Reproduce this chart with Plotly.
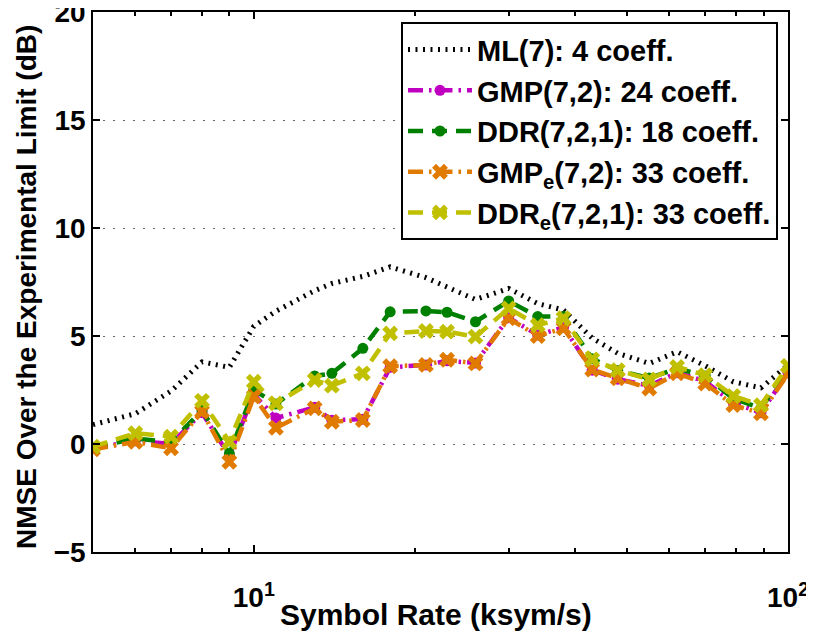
import plotly.graph_objects as go

# ---- data ----
symbol_rate = [5, 6, 7, 8, 9, 10, 11, 13, 14, 16, 18, 21, 23, 26, 30, 34, 38, 43, 48, 55, 62, 70, 79, 89, 100]

ml_7 = [0.9, 1.4, 2.45, 3.8, 3.55, 5.45, 6.15, 7.1, 7.43, 7.76, 8.2, 7.7, 7.27, 6.69, 7.2,
        6.5, 6.2, 4.9, 4.2, 3.73, 4.27, 3.62, 2.88, 2.6, 3.65]
gmp_72 = [-0.2, 0.15, 0.0, 1.45, -0.55, 2.3, 1.2, 1.7, 1.1, 1.15, 3.55, 3.66, 3.85, 3.75, 5.85,
          5.05, 5.4, 3.42, 3.0, 2.7, 3.3, 2.9, 1.9, 1.45, 3.3]
ddr_721 = [-0.15, 0.25, 0.1, 1.55, -0.45, 2.5, 1.85, 3.15, 3.27, 4.43, 6.12, 6.16, 6.1, 5.66, 6.62,
           5.9, 5.9, 3.95, 3.4, 3.05, 3.5, 3.15, 2.1, 1.65, 3.45]
gmpe_72 = [-0.25, 0.1, -0.2, 1.5, -0.82, 2.2, 0.75, 1.65, 1.03, 1.11, 3.6, 3.66, 3.9, 3.73, 5.82,
           5.0, 5.36, 3.45, 3.04, 2.57, 3.27, 2.8, 1.8, 1.42, 3.24]
ddre_721 = [-0.12, 0.5, 0.34, 2.0, 0.1, 2.88, 1.88, 2.96, 2.7, 3.27, 5.12, 5.23, 5.2, 4.97, 6.28,
            5.5, 5.82, 3.92, 3.42, 2.99, 3.57, 3.19, 2.22, 1.8, 3.62]

series_names = [
    "ML(7): 4 coeff.",
    "GMP(7,2): 24 coeff.",
    "DDR(7,2,1): 18 coeff.",
    "GMP<sub>e</sub>(7,2): 33 coeff.",
    "DDR<sub>e</sub>(7,2,1): 33 coeff.",
]

x_major_ticks = [10, 100]
x_major_labels = ["10<sup>1</sup>", "10<sup>2</sup>"]
x_minor_ticks = [5, 6, 7, 8, 9, 20, 30, 40, 50, 60, 70, 80, 90]
y_ticks = [-5, 0, 5, 10, 15, 20]
x_title = "Symbol Rate (ksym/s)"
y_title = "NMSE Over the Experimental Limit (dB)"

FONT = "Liberation Sans, Arial, Helvetica, sans-serif"

MAGENTA = "#C000C0"
GREEN = "#008000"
ORANGE = "#E07B00"
OLIVE = "#C0C000"

DASH = "15px,9px"
DASHDOT = "15px,6px,2.5px,6px"

fig = go.Figure()

fig.add_trace(go.Scatter(
    x=symbol_rate, y=ml_7, name=series_names[0], mode="lines",
    line=dict(color="black", width=5, dash="2px,5.5px"),
))
fig.add_trace(go.Scatter(
    x=symbol_rate, y=gmp_72, name=series_names[1], mode="lines+markers",
    line=dict(color=MAGENTA, width=4.5, dash=DASHDOT),
    marker=dict(symbol="circle", size=11, color=MAGENTA),
))
fig.add_trace(go.Scatter(
    x=symbol_rate, y=ddr_721, name=series_names[2], mode="lines+markers",
    line=dict(color=GREEN, width=4.5, dash=DASH),
    marker=dict(symbol="circle", size=11, color=GREEN),
))
fig.add_trace(go.Scatter(
    x=symbol_rate, y=gmpe_72, name=series_names[3], mode="lines+markers",
    line=dict(color=ORANGE, width=4.5, dash=DASHDOT),
    marker=dict(symbol="x", size=14, color=ORANGE),
))
fig.add_trace(go.Scatter(
    x=symbol_rate, y=ddre_721, name=series_names[4], mode="lines+markers",
    line=dict(color=OLIVE, width=4.5, dash=DASH),
    marker=dict(symbol="x", size=14, color=OLIVE),
))

# page body adds an 8px offset, so the figure is 8px smaller in each direction
fig.update_layout(
    width=806, height=633,
    margin=dict(l=85, r=26, t=4, b=89, autoexpand=False),
    paper_bgcolor="white", plot_bgcolor="white",
    font=dict(family=FONT, size=28, color="black", weight="bold"),
    showlegend=True,
    legend=dict(
        x=0.9856, y=0.981, xanchor="right", yanchor="top",
        bgcolor="white", bordercolor="black", borderwidth=2,
        font=dict(family=FONT, size=29, color="black", weight="bold"),
        itemwidth=64, tracegroupgap=0,
    ),
    xaxis=dict(
        type="log", range=[0.69897, 2.0],
        tickmode="array", tickvals=x_major_ticks, ticktext=x_major_labels,
        ticks="inside", ticklen=7, tickwidth=1.5, tickcolor="black",
        showline=True, linecolor="black", linewidth=1.5, mirror="ticks",
        showgrid=False, zeroline=False,
        tickfont=dict(size=28, weight="bold"),
        ticklabelstandoff=20, ticklabeloverflow="allow",
        minor=dict(tickmode="array", tickvals=x_minor_ticks, ticks="inside",
                   ticklen=4, tickwidth=1.5, tickcolor="black", showgrid=False),
        automargin=False,
    ),
    yaxis=dict(
        range=[-5, 20],
        tickmode="array", tickvals=y_ticks,
        ticks="inside", ticklen=7, tickwidth=1.5, tickcolor="black",
        showline=True, linecolor="black", linewidth=1.5, mirror="ticks",
        showgrid=True, gridcolor="#666666", gridwidth=1, griddash="1.5px,8.5px",
        zeroline=False,
        tickfont=dict(size=28, weight="bold"),
        ticklabeloverflow="allow",
        automargin=False,
    ),
    annotations=[
        dict(text=x_title, xref="paper", yref="paper", x=0.5, y=0,
             xanchor="center", yanchor="middle", yshift=-62, xshift=-5, showarrow=False,
             font=dict(family=FONT, size=30, color="black", weight="bold")),
        dict(text=y_title, xref="paper", yref="paper", x=0, y=0.5,
             xanchor="center", yanchor="middle", xshift=-67, yshift=-5,
             textangle=-90, showarrow=False,
             font=dict(family=FONT, size=28, color="black", weight="bold")),
    ],
)

fig.write_html("out.html")
